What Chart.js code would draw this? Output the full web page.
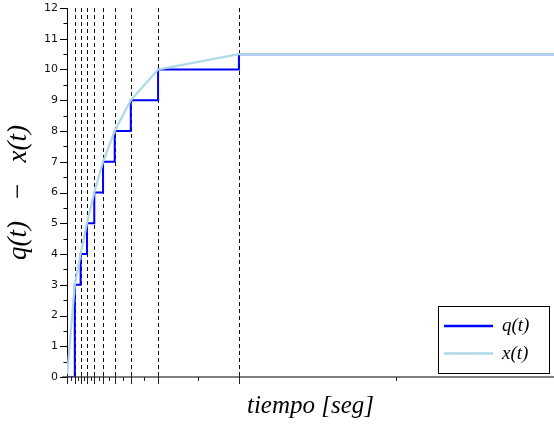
<!DOCTYPE html>
<html><head><meta charset="utf-8">
<script src="https://cdn.jsdelivr.net/npm/chart.js@4"></script>
<style>html,body{margin:0;padding:0;background:#fff}</style>
</head><body>
<canvas id="c" width="554" height="428" style="display:block;width:554px;height:428px"></canvas>
<script>
// ---- data ----
const times      = [0, 0.16, 0.28, 0.41, 0.56, 0.74, 0.98, 1.31, 1.87, 3.53, 10];
const qValues    = [0, 3, 4, 5, 6, 7, 8, 9, 10, 10.5, 10.5];
const xValues    = [0, 3, 4, 5, 6, 7, 8, 9, 10, 10.5, 10.5];
const eventTimes = [0.16, 0.28, 0.41, 0.56, 0.74, 0.98, 1.31, 1.87, 3.53];
const minorXTicks = [0.08, 0.22, 0.345, 0.485, 0.65, 0.86, 1.145, 1.59, 2.7, 6.765];
const yTicks     = [0,1,2,3,4,5,6,7,8,9,10,11,12];
const seriesNames = ['q(t)', 'x(t)'];
const seriesColors = ['#0000ff', '#add8e6'];
const xTitle = 'tiempo [seg]';
const yTitle = 'q(t)   \u2212   x(t)';

const serif = '"Liberation Serif", "DejaVu Serif", serif';

const decor = {
  id: 'decor',
  beforeDatasetsDraw(chart) {
    const ctx = chart.ctx, xs = chart.scales.x, ca = chart.chartArea;
    ctx.save();
    ctx.strokeStyle = '#111';
    ctx.lineWidth = 1;
    ctx.setLineDash([4, 3]);
    eventTimes.forEach(t => {
      const px = Math.round(xs.getPixelForValue(t)) + 0.5;
      ctx.beginPath(); ctx.moveTo(px, ca.top); ctx.lineTo(px, ca.bottom); ctx.stroke();
    });
    ctx.restore();
  },
  afterDraw(chart) {
    const ctx = chart.ctx, xs = chart.scales.x, ys = chart.scales.y, ca = chart.chartArea;
    ctx.save();
    // x axis line
    ctx.strokeStyle = '#555'; ctx.lineWidth = 1.5;
    const ay = ys.getPixelForValue(0);
    ctx.beginPath(); ctx.moveTo(ca.left - 5, ay); ctx.lineTo(ca.right, ay); ctx.stroke();
    // x ticks
    ctx.strokeStyle = '#222'; ctx.lineWidth = 1;
    [0].concat(eventTimes).forEach(t => {
      const px = Math.round(xs.getPixelForValue(t)) + 0.5;
      ctx.beginPath(); ctx.moveTo(px, ay - 3); ctx.lineTo(px, ay + 7); ctx.stroke();
    });
    minorXTicks.forEach(t => {
      const px = Math.round(xs.getPixelForValue(t)) + 0.5;
      ctx.beginPath(); ctx.moveTo(px, ay); ctx.lineTo(px, ay + 4); ctx.stroke();
    });
    // y ticks
    ctx.strokeStyle = '#000';
    yTicks.forEach(v => {
      const py = Math.round(ys.getPixelForValue(v)) + 0.5;
      ctx.beginPath(); ctx.moveTo(ca.left, py); ctx.lineTo(ca.left - 7, py); ctx.stroke();
      if (v < 12) {
        const pm = Math.round(ys.getPixelForValue(v + 0.5)) + 0.5;
        ctx.beginPath(); ctx.moveTo(ca.left, pm); ctx.lineTo(ca.left - 3.5, pm); ctx.stroke();
      }
    });
    // legend
    const bx = 438, by = 306, bw = 111, bh = 67;
    ctx.fillStyle = '#fff';
    ctx.fillRect(bx, by, bw, bh);
    ctx.strokeStyle = '#000'; ctx.lineWidth = 1;
    ctx.strokeRect(bx + 0.5, by + 0.5, bw, bh);
    seriesNames.forEach((name, i) => {
      const ly = by + 20 + i * 27.5;
      ctx.strokeStyle = seriesColors[i]; ctx.lineWidth = 2.5;
      ctx.beginPath(); ctx.moveTo(bx + 6, ly); ctx.lineTo(bx + 55, ly); ctx.stroke();
      ctx.fillStyle = '#000';
      ctx.font = 'italic 19px ' + serif;
      ctx.textBaseline = 'middle'; ctx.textAlign = 'left';
      ctx.fillText(name, bx + 64, ly);
    });
    ctx.restore();
  }
};

new Chart(document.getElementById('c'), {
  type: 'line',
  data: {
    datasets: [
      { label: seriesNames[1], data: times.map((t, i) => ({x: t, y: xValues[i]})),
        borderColor: seriesColors[1], borderWidth: 2.2, pointRadius: 0, tension: 0, order: 0 },
      { label: seriesNames[0], data: times.map((t, i) => ({x: t, y: qValues[i]})),
        borderColor: seriesColors[0], borderWidth: 2, pointRadius: 0, stepped: 'before', order: 1 }
    ]
  },
  options: {
    responsive: false,
    animation: false,
    devicePixelRatio: 1,
    layout: { padding: { top: 8, right: 0, left: 0, bottom: 0 } },
    plugins: { legend: { display: false }, tooltip: { enabled: false } },
    scales: {
      x: {
        type: 'linear', min: 0, max: 10,
        afterFit: s => { s.height = 51; s.paddingLeft = 0; s.paddingRight = 0; },
        ticks: { display: false },
        grid: { display: false, drawTicks: false },
        border: { display: false },
        title: { display: true, text: xTitle, color: '#000',
                 font: { family: serif, size: 25, style: 'italic' }, padding: { top: 0, bottom: 7 } }
      },
      y: {
        type: 'linear', min: 0, max: 12,
        afterFit: s => { s.width = 67; s.paddingTop = 0; s.paddingBottom = 0; },
        afterBuildTicks: s => { s.ticks = yTicks.map(v => ({ value: v })); },
        ticks: { stepSize: 1, padding: 9, color: '#111',
                 font: { family: '"DejaVu Sans", sans-serif', size: 11 } },
        grid: { display: false, drawTicks: false },
        border: { display: true, color: '#000', width: 1 },
        title: { display: true, text: yTitle, color: '#000',
                 font: { family: serif, size: 27, style: 'italic' }, padding: { top: 3, bottom: 0 } }
      }
    }
  },
  plugins: [decor]
});
</script>
</body></html>
